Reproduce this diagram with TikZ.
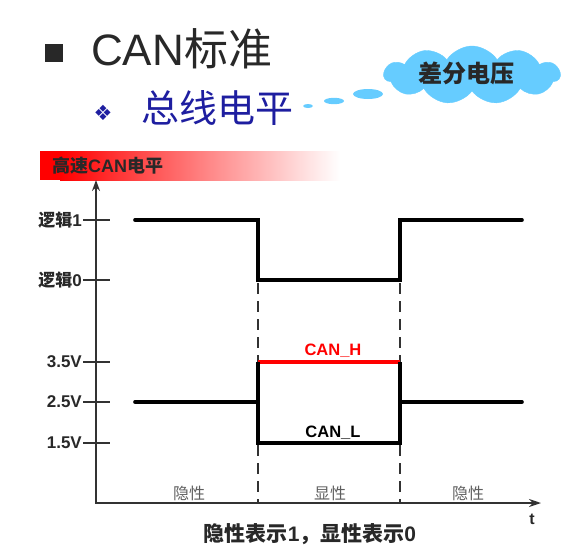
\documentclass[tikz,border=0pt]{standalone}
\usepackage{fontspec}
\setmainfont{Liberation Sans}
\newfontfamily\cjk{Noto Sans CJK SC}
\newfontfamily\dejavu{DejaVu Sans}
\usetikzlibrary{shapes.symbols,arrows.meta}
\definecolor{cloudblue}{RGB}{102,204,255}
\definecolor{titleblue}{RGB}{30,30,160}
\definecolor{darktext}{RGB}{40,40,40}
\definecolor{graytext}{RGB}{95,95,95}
\definecolor{axisgray}{RGB}{50,50,50}
\begin{document}
\begin{tikzpicture}[x=1pt,y=-1pt,
  wave/.style={line width=3.6pt, line join=miter, line cap=round},
  axisline/.style={line width=1.6pt, draw=axisgray},
  tickline/.style={line width=1.5pt, draw=axisgray},
  ticklabel/.style={anchor=east, inner sep=0, font=\bfseries\fontsize{17}{17}\selectfont, text=darktext},
  statelabel/.style={inner sep=0, font=\cjk\fontsize{16}{16}\selectfont, text=graytext},
  divider/.style={line width=1.8pt, draw=axisgray, dash pattern=on 11pt off 7pt}]
\useasboundingbox (0,0) rectangle (566,555);

% ---- title area ----
\fill[darktext] (45,44) rectangle (63,62);
\node[anchor=base west, inner sep=0, font=\fontsize{44}{44}\selectfont, text=darktext] (title) at (91,65) {CAN{\cjk 标准}};
\node[inner sep=0, font=\dejavu\fontsize{21}{21}\selectfont, text=titleblue] (dia) at (103,113) {❖};
\node[anchor=west, inner sep=0, font=\cjk\fontsize{38}{38}\selectfont, text=titleblue] (sub) at (141,108) {总线电平};

% ---- thought cloud ----
\fill[cloudblue] (308,106) ellipse [x radius=5pt, y radius=2pt];
\fill[cloudblue] (334,101) ellipse [x radius=10pt, y radius=3.2pt];
\fill[cloudblue] (368,94) ellipse [x radius=15pt, y radius=5pt];
\node[cloud, cloud puffs=11, cloud puff arc=115, fill=cloudblue, draw=cloudblue,
      minimum width=176pt, minimum height=58pt, inner sep=0] (cloud) at (472,75) {};
\node[inner sep=0, font=\cjk\bfseries\fontsize{24}{24}\selectfont, text=darktext] (cloudtxt) at (466,73) {差分电压};

% ---- header bar ----
\fill[red] (40,151) rectangle (60,180);
\shade[left color=red, right color=white] (60,151) rectangle (340,180);
\node[anchor=west, inner sep=0, font=\bfseries\fontsize{18}{18}\selectfont, text=darktext] (bartxt) at (52,166) {{\cjk 高速}CAN{\cjk 电平}};

% ---- axes ----
\coordinate (ytop) at (96,180);
\coordinate (O) at (96,503);
\coordinate (xend) at (541,503);
\draw[axisline, {Stealth[length=11pt,width=8pt]}-{Stealth[length=12pt,width=8pt]}] (ytop) -- (O) -- (xend);
\node[inner sep=0, font=\bfseries\fontsize{16}{16}\selectfont, text=darktext] (tlabel) at (532,519) {t};

% ticks
\foreach \yy/\lab/\nm in {220/{{\cjk 逻辑}1}/l1, 280/{{\cjk 逻辑}0}/l0, 362/{3.5V}/v35, 402/{2.5V}/v25, 443/{1.5V}/v15} {
  \coordinate (tk\nm a) at (83,\yy);
  \coordinate (tk\nm b) at (110,\yy);
  \draw[tickline] (tk\nm a) -- (tk\nm b);
  \node[ticklabel] (lab\nm) at (82,\yy) {\lab};
}

% ---- dividers ----
\coordinate (d1t) at (258,283); \coordinate (d1b) at (258,502);
\coordinate (d2t) at (400,283); \coordinate (d2b) at (400,502);
\draw[divider] (d1t) -- (d1b);
\draw[divider] (d2t) -- (d2b);

% ---- logic waveform ----
\draw[wave] (135,220) -- (258,220) -- (258,280) -- (400,280) -- (400,220) -- (522,220);

% ---- voltage waveforms ----
\draw[wave] (135,402) -- (258,402);
\draw[wave] (400,402) -- (522,402);
\draw[wave, red, line cap=butt] (258,362) -- (400,362);
\draw[wave, line cap=butt] (258,362) -- (258,443) -- (400,443) -- (400,362);

\node[anchor=base, inner sep=0, font=\bfseries\fontsize{16.5}{16.5}\selectfont, text=red] (canh) at (333,355) {CAN\_H};
\node[anchor=base, inner sep=0, font=\bfseries\fontsize{16.5}{16.5}\selectfont, text=black] (canl) at (333,437) {CAN\_L};

% ---- state labels ----
\node[statelabel] (s1) at (189,493) {隐性};
\node[statelabel] (s2) at (330,493) {显性};
\node[statelabel] (s3) at (468,493) {隐性};

% ---- caption ----
\node[inner sep=0, font=\bfseries\fontsize{21}{21}\selectfont, text=darktext] (cap) at (310,534) {{\cjk 隐性表示}1{\cjk ，显性表示}0};
\end{tikzpicture}
\end{document}
